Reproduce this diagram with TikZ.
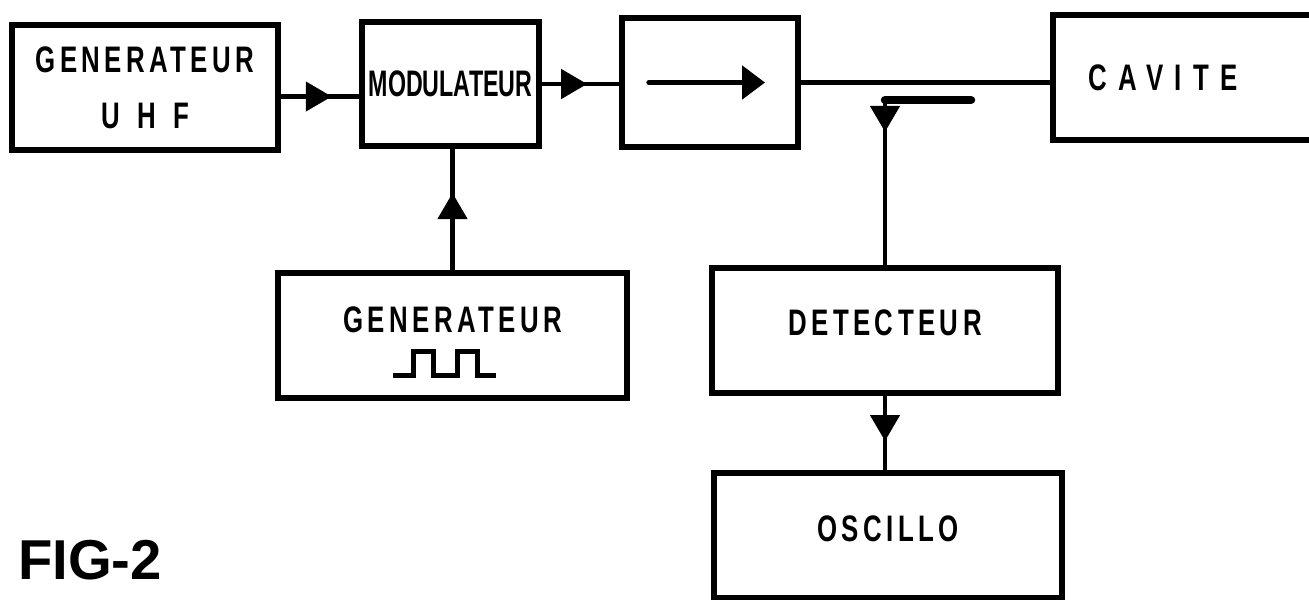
\documentclass[tikz,border=0pt]{standalone}
\usepackage{fontspec}
\usepackage{tikz}
\usetikzlibrary{
    arrows.meta,
    positioning,
    decorations.markings,
    calc
}
\newfontfamily\boxfont{Liberation Sans}[FakeStretch=0.70, LetterSpace=12]
\newfontfamily\modfont{Liberation Sans}[FakeStretch=0.63]
\newfontfamily\figfont{Liberation Sans}
\tikzset{
    gbox/.style={
        rectangle, draw=black, line width=1.5pt, fill=white,
        align=center, inner sep=0pt, outer sep=0pt,
        font=\boxfont\bfseries\fontsize{10.5}{12.6}\selectfont
    },
    conn/.style={line width=1.3pt, black},
    midtip/.style={
        postaction={decorate},
        decoration={markings,
            mark=at position #1 with {\arrow{Triangle[length=0.26cm, width=0.29cm]}}}
    },
    symarr/.style={-{Triangle[length=0.23cm, width=0.33cm]}, line width=1.5pt, line cap=round},
}

\begin{document}
\begin{tikzpicture}
    \useasboundingbox (0,0) rectangle (13.09,-5.99);

    % -- ligne du haut ----------------------------------
    \node [gbox, minimum width=2.66cm, minimum height=1.25cm]
        (uhf) at (1.45,-0.875) {GENERATEUR\\[0.12cm]{\addfontfeature{LetterSpace=47}UHF}};
    \node [gbox, minimum width=1.77cm, minimum height=1.24cm,
           right=0.84cm of uhf, yshift=0.035cm,
           font=\modfont\bfseries\fontsize{10.5}{12.6}\selectfont]
        (modu) {MODULATEUR};
    \node [gbox, minimum width=1.76cm, minimum height=1.29cm,
           right=0.83cm of modu, yshift=0.015cm]
        (isol) {};
    \node [gbox, minimum height=1.25cm, text width=2.2cm, align=left,
           inner xsep=0.35cm, right=2.55cm of isol, yshift=0.05cm]
        (cav) {\addfontfeature{LetterSpace=31}CAVITE};

    % -- ligne du bas -----------------------------------
    \node [gbox, minimum width=3.49cm, minimum height=1.25cm,
           text depth=0.32cm, below=1.27cm of modu, xshift=0.02cm]
        (gpulse) {GENERATEUR};
    \node [gbox, minimum width=3.46cm, minimum height=1.25cm,
           text depth=0.15cm, right=0.85cm of gpulse, yshift=0.05cm]
        (det) {DETECTEUR};
    \node [gbox, minimum width=3.48cm, minimum height=1.25cm,
           text depth=0.14cm, below=0.8cm of det, xshift=0.03cm]
        (osc) {OSCILLO};

    \node [font=\figfont\bfseries\fontsize{16}{19}\selectfont, inner sep=0pt]
        (fig) at (0.9,-5.6) {FIG-2};

    % -- symboles ---------------------------------------
    \draw [symarr] ([xshift=-0.61cm]isol.center) -- ([xshift=0.55cm]isol.center);
    \draw [line width=1.4pt, line join=miter]
        ($(gpulse.center)+(-0.60,-0.40)$) -- ++(0.21,0) -- ++(0,0.24)
        -- ++(0.20,0) -- ++(0,-0.24) -- ++(0.24,0) -- ++(0,0.24)
        -- ++(0.20,0) -- ++(0,-0.24) -- ++(0.18,0);

    % -- liaisons ---------------------------------------
    \draw [conn, midtip=0.64] ([yshift=-0.09cm]uhf.east) -- ([yshift=-0.09cm]uhf.east -| modu.west);
    \draw [conn, midtip=0.58] (modu.east) -- (modu.east -| isol.west);
    \draw [conn] (isol.east) -- (isol.east -| cav.west);
    \draw [conn, midtip=0.63] (gpulse.north) -- (gpulse.north |- modu.south);
    \draw [conn, midtip=0.6] (det.south) -- (det.south |- osc.north);

    % -- coupleur ---------------------------------------
    \coordinate (cpl) at (9.71,-1.00);
    \draw [line width=2.4pt, line cap=round] (cpl) -- (cpl -| det.north);
    \draw [conn, midtip=0.19] (cpl -| det.north) -- (det.north);

\end{tikzpicture}
\end{document}
